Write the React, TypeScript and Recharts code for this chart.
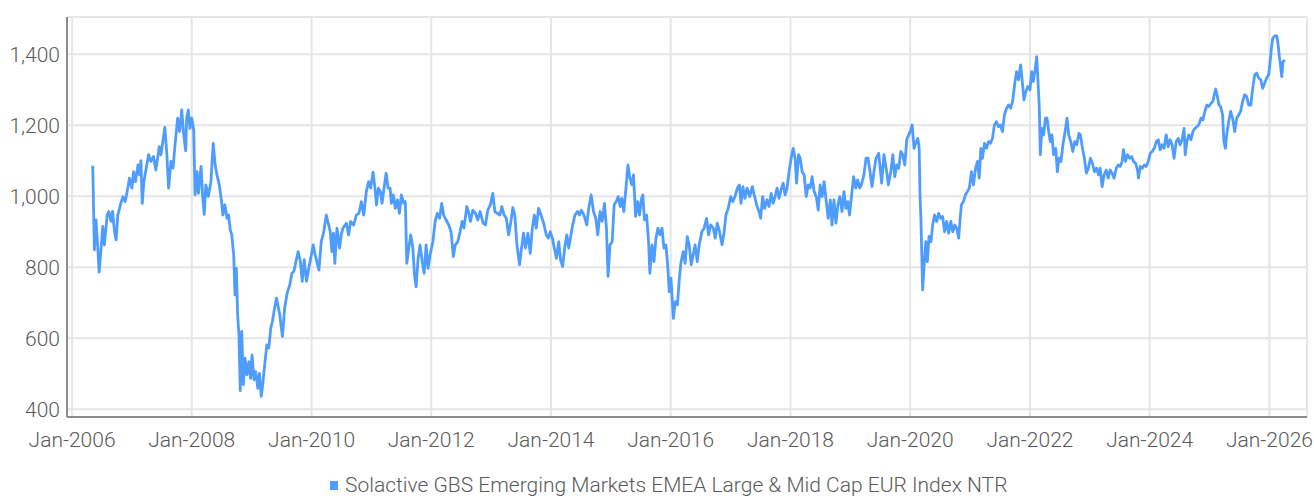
// Solactive GBS Emerging Markets EMEA Large & Mid Cap EUR Index NTR — index level history.
import React from 'react';
import { LineChart, Line, XAxis, YAxis, CartesianGrid } from 'recharts';

const BLUE = '#4f9cff';
const GRID = '#e6e6e6';
const AXIS = '#8c8c8c';
const LABEL = '#5a5a5a';
const FONT = "Roboto, 'Noto Sans', sans-serif";

const SERIES_NAME = 'Solactive GBS Emerging Markets EMEA Large & Mid Cap EUR Index NTR';

const tickYears = [2006, 2008, 2010, 2012, 2014, 2016, 2018, 2020, 2022, 2024, 2026];
const yTicks = [400, 600, 800, 1000, 1200, 1400];

// values, [date, index level]
const seg2006: [string, number][] = [
  ['2006-05-07', 1086], ['2006-05-17', 849], ['2006-05-27', 933], ['2006-06-07', 853], ['2006-06-15', 786],
  ['2006-06-27', 853], ['2006-07-07', 915], ['2006-07-17', 863], ['2006-08-03', 947], ['2006-08-13', 957],
  ['2006-08-27', 929], ['2006-09-05', 957], ['2006-09-17', 900], ['2006-09-27', 877], ['2006-10-07', 947],
  ['2006-10-23', 976], ['2006-11-07', 999], ['2006-11-21', 985], ['2006-12-03', 1013], ['2006-12-17', 1051],
  ['2007-01-01', 1023], ['2007-01-11', 1069], ['2007-01-23', 1041], ['2007-02-07', 1088], ['2007-02-17', 1060],
  ['2007-02-25', 1100], ['2007-03-05', 980], ['2007-03-15', 1041], ['2007-03-29', 1079], ['2007-04-13', 1117],
  ['2007-04-27', 1098], ['2007-05-13', 1112], ['2007-05-27', 1074], ['2007-06-07', 1107], ['2007-06-17', 1140],
  ['2007-06-27', 1117], ['2007-07-07', 1149], ['2007-07-21', 1194], ['2007-08-01', 1126], ['2007-08-13', 1023],
  ['2007-08-27', 1098], ['2007-09-09', 1079], ['2007-09-21', 1145], ['2007-10-07', 1220], ['2007-10-19', 1182],
  ['2007-11-01', 1243], ['2007-11-13', 1173], ['2007-11-25', 1128], ['2007-12-01', 1220], ['2007-12-11', 1243],
  ['2007-12-21', 1191], ['2008-01-01', 1220], ['2008-01-13', 1187], ['2008-01-21', 1004], ['2008-02-03', 1069],
  ['2008-02-11', 1008], ['2008-02-27', 1084], ['2008-03-07', 1004], ['2008-03-17', 949], ['2008-03-27', 1032],
  ['2008-04-11', 999], ['2008-04-27', 1041], ['2008-05-11', 1149], ['2008-05-23', 1088], ['2008-06-03', 1060],
  ['2008-06-17', 1032], ['2008-07-01', 985], ['2008-07-09', 947], ['2008-07-21', 976], ['2008-08-03', 938],
  ['2008-08-13', 947], ['2008-08-23', 905], ['2008-09-01', 891], ['2008-09-13', 835], ['2008-09-21', 722],
  ['2008-09-29', 797], ['2008-10-07', 666], ['2008-10-15', 609], ['2008-10-23', 452], ['2008-11-01', 619],
  ['2008-11-11', 469], ['2008-11-21', 544], ['2008-12-03', 497], ['2008-12-15', 534], ['2008-12-25', 487],
  ['2009-01-03', 553], ['2009-01-15', 483], ['2009-01-25', 506], ['2009-02-07', 459], ['2009-02-17', 501],
  ['2009-02-28', 436], ['2009-03-09', 469], ['2009-03-21', 525], ['2009-04-03', 581], ['2009-04-15', 572],
  ['2009-04-27', 628], ['2009-05-07', 647], ['2009-05-17', 675], ['2009-06-01', 713], ['2009-06-21', 666],
  ['2009-07-07', 605], ['2009-07-21', 685], ['2009-08-05', 727], ['2009-08-21', 750], ['2009-09-03', 783],
  ['2009-09-15', 788], ['2009-10-11', 844], ['2009-10-25', 816], ['2009-11-05', 760], ['2009-11-17', 821],
  ['2009-12-01', 760], ['2009-12-15', 797], ['2009-12-29', 830],
];

const seg2010: [string, number][] = [
  ['2010-01-11', 863], ['2010-01-23', 835], ['2010-02-15', 792], ['2010-03-01', 872], ['2010-03-15', 896],
  ['2010-04-01', 947], ['2010-04-25', 900], ['2010-05-05', 844], ['2010-05-15', 896], ['2010-05-23', 811],
  ['2010-06-05', 910], ['2010-06-21', 854], ['2010-07-01', 891], ['2010-07-11', 910], ['2010-08-01', 924],
  ['2010-08-15', 891], ['2010-08-27', 929], ['2010-09-15', 919], ['2010-10-01', 947], ['2010-10-17', 952],
  ['2010-11-01', 985], ['2010-11-15', 947], ['2010-12-01', 1013], ['2010-12-15', 1041], ['2010-12-28', 1023],
  ['2011-01-11', 1068], ['2011-01-23', 1023], ['2011-02-01', 976], ['2011-02-13', 1023], ['2011-02-25', 1013],
  ['2011-03-07', 980], ['2011-03-19', 1023], ['2011-04-01', 1065], ['2011-04-13', 1023], ['2011-04-25', 1023],
  ['2011-05-03', 980], ['2011-05-15', 1004], ['2011-05-27', 966], ['2011-06-09', 990], ['2011-06-21', 952],
  ['2011-07-03', 1004], ['2011-07-17', 980], ['2011-07-27', 985], ['2011-08-05', 811], ['2011-08-17', 854],
  ['2011-08-29', 891], ['2011-09-11', 854], ['2011-09-21', 778], ['2011-10-01', 745], ['2011-10-13', 825],
  ['2011-10-25', 863], ['2011-11-07', 816], ['2011-11-19', 783], ['2011-12-01', 863], ['2011-12-13', 797],
  ['2011-12-25', 835], ['2012-01-11', 872], ['2012-01-25', 929], ['2012-02-07', 952], ['2012-02-21', 938],
  ['2012-03-05', 980], ['2012-03-17', 947], ['2012-04-01', 933], ['2012-04-17', 919], ['2012-05-01', 900],
  ['2012-05-15', 830], ['2012-05-27', 863], ['2012-06-11', 872], ['2012-06-25', 900], ['2012-07-07', 929],
  ['2012-07-19', 910], ['2012-08-05', 971], ['2012-08-15', 957], ['2012-08-27', 929], ['2012-09-11', 961],
  ['2012-09-27', 952], ['2012-10-11', 933], ['2012-10-25', 957], ['2012-11-13', 924], ['2012-11-27', 919],
  ['2012-12-11', 961], ['2012-12-27', 976], ['2013-01-11', 1008], ['2013-01-23', 957], ['2013-02-07', 952],
  ['2013-02-23', 947], ['2013-03-07', 971], ['2013-03-21', 947], ['2013-04-03', 938], ['2013-04-17', 891],
  ['2013-05-01', 929], ['2013-05-13', 968], ['2013-05-25', 947], ['2013-06-07', 863], ['2013-06-23', 807],
  ['2013-07-05', 854], ['2013-07-17', 896], ['2013-07-29', 854], ['2013-08-13', 896], ['2013-08-27', 839],
  ['2013-09-09', 910], ['2013-09-21', 947], ['2013-10-03', 910], ['2013-10-17', 966], ['2013-11-01', 947],
  ['2013-11-17', 924], ['2013-12-03', 891], ['2013-12-15', 882], ['2013-12-27', 900],
];

const seg2014: [string, number][] = [
  ['2014-01-09', 882], ['2014-01-21', 854], ['2014-02-03', 825], ['2014-02-17', 872], ['2014-02-28', 821],
  ['2014-03-13', 802], ['2014-03-25', 854], ['2014-04-07', 891], ['2014-04-19', 854], ['2014-05-01', 887],
  ['2014-05-13', 919], ['2014-05-27', 947], ['2014-06-11', 957], ['2014-06-23', 947], ['2014-07-05', 961],
  ['2014-07-21', 947], ['2014-08-07', 919], ['2014-08-19', 966], ['2014-09-03', 1004], ['2014-09-17', 957],
  ['2014-10-01', 938], ['2014-10-13', 891], ['2014-10-27', 957], ['2014-11-09', 929], ['2014-11-23', 980],
  ['2014-12-05', 910], ['2014-12-15', 774], ['2014-12-27', 863], ['2015-01-09', 872], ['2015-01-21', 976],
  ['2015-02-03', 985], ['2015-02-15', 999], ['2015-02-27', 971], ['2015-03-09', 994], ['2015-03-21', 957],
  ['2015-04-03', 1023], ['2015-04-15', 1088], ['2015-04-27', 1051], ['2015-05-09', 1032], ['2015-05-19', 1060],
  ['2015-06-01', 943], ['2015-06-13', 985], ['2015-06-25', 947], ['2015-07-05', 990], ['2015-07-15', 1004],
  ['2015-07-25', 933], ['2015-08-07', 947], ['2015-08-19', 872], ['2015-08-27', 783], ['2015-09-09', 863],
  ['2015-09-21', 816], ['2015-10-03', 882], ['2015-10-15', 910], ['2015-10-27', 891], ['2015-11-09', 910],
  ['2015-11-21', 854], ['2015-12-03', 863], ['2015-12-15', 797], ['2015-12-23', 731], ['2016-01-03', 769],
  ['2016-01-17', 656], ['2016-01-29', 703], ['2016-02-11', 694], ['2016-02-23', 769], ['2016-03-03', 811],
  ['2016-03-17', 844], ['2016-03-29', 811], ['2016-04-11', 886], ['2016-04-23', 863], ['2016-05-05', 807],
  ['2016-05-17', 835], ['2016-05-29', 863], ['2016-06-11', 816], ['2016-06-23', 863], ['2016-07-09', 900],
  ['2016-07-23', 910], ['2016-08-07', 938], ['2016-08-19', 891], ['2016-09-01', 919], ['2016-09-17', 910],
  ['2016-09-29', 882], ['2016-10-11', 924], ['2016-10-25', 900], ['2016-11-09', 863], ['2016-11-21', 896],
  ['2016-12-03', 947], ['2016-12-17', 966], ['2017-01-01', 999], ['2017-01-13', 985], ['2017-01-27', 999],
  ['2017-02-11', 1023], ['2017-02-23', 1032], ['2017-03-05', 980], ['2017-03-17', 1027], ['2017-03-29', 994],
  ['2017-04-11', 1023], ['2017-04-27', 999], ['2017-05-13', 1027], ['2017-05-27', 999], ['2017-06-11', 971],
  ['2017-06-23', 957], ['2017-07-03', 938], ['2017-07-15', 999], ['2017-07-27', 966], ['2017-08-11', 990],
  ['2017-08-23', 971], ['2017-09-05', 1008], ['2017-09-17', 980], ['2017-09-29', 999], ['2017-10-11', 1023],
  ['2017-10-23', 994], ['2017-11-07', 1023], ['2017-11-17', 1037], ['2017-11-29', 1004], ['2017-12-11', 1023],
  ['2017-12-23', 1069],
];

const seg2018: [string, number][] = [
  ['2018-01-05', 1107], ['2018-01-17', 1135], ['2018-01-29', 1107], ['2018-02-07', 1037], ['2018-02-19', 1117],
  ['2018-03-01', 1107], ['2018-03-13', 1069], ['2018-03-25', 1060], ['2018-04-07', 999], ['2018-04-19', 1032],
  ['2018-05-01', 1023], ['2018-05-13', 1055], ['2018-05-25', 1013], ['2018-06-07', 999], ['2018-06-19', 961],
  ['2018-07-01', 1032], ['2018-07-13', 999], ['2018-07-25', 1041], ['2018-08-07', 985], ['2018-08-19', 938],
  ['2018-09-01', 990], ['2018-09-11', 919], ['2018-09-23', 990], ['2018-10-05', 924], ['2018-10-17', 976],
  ['2018-10-29', 999], ['2018-11-11', 957], ['2018-11-23', 1013], ['2018-12-05', 966], ['2018-12-17', 985],
  ['2018-12-27', 947], ['2019-01-09', 1004], ['2019-01-21', 1055], ['2019-02-03', 1023], ['2019-02-15', 1046],
  ['2019-02-27', 1023], ['2019-03-09', 1032], ['2019-03-25', 1060], ['2019-04-07', 1107], ['2019-04-19', 1107],
  ['2019-05-01', 1069], ['2019-05-13', 1027], ['2019-05-25', 1069], ['2019-06-07', 1107], ['2019-06-23', 1121],
  ['2019-07-11', 1037], ['2019-07-25', 1117], ['2019-08-11', 1069], ['2019-08-21', 1032], ['2019-09-05', 1069],
  ['2019-09-17', 1117], ['2019-09-29', 1055], ['2019-10-11', 1088], ['2019-10-23', 1079], ['2019-11-05', 1126],
  ['2019-11-17', 1117], ['2019-11-29', 1088], ['2019-12-11', 1159], ['2019-12-23', 1173], ['2020-01-05', 1187],
  ['2020-01-13', 1201], ['2020-01-25', 1135], ['2020-02-07', 1154], ['2020-02-17', 1163], ['2020-02-25', 1135],
  ['2020-03-01', 1004], ['2020-03-07', 929], ['2020-03-11', 854], ['2020-03-17', 736], ['2020-03-25', 797],
  ['2020-04-05', 872], ['2020-04-15', 816], ['2020-04-25', 887], ['2020-05-07', 872], ['2020-05-17', 919],
  ['2020-05-29', 947], ['2020-06-11', 929], ['2020-06-23', 952], ['2020-07-05', 938], ['2020-07-17', 943],
  ['2020-07-29', 900], ['2020-08-11', 929], ['2020-08-23', 896], ['2020-09-05', 929], ['2020-09-17', 900],
  ['2020-09-29', 919], ['2020-10-11', 910], ['2020-10-23', 882], ['2020-11-01', 938], ['2020-11-09', 976],
  ['2020-11-21', 985], ['2020-12-03', 1004], ['2020-12-15', 1013], ['2020-12-27', 1023], ['2021-01-09', 1069],
  ['2021-01-21', 1032], ['2021-02-03', 1079], ['2021-02-15', 1098], ['2021-02-25', 1051], ['2021-03-07', 1135],
  ['2021-03-17', 1107], ['2021-03-29', 1149], ['2021-04-11', 1135], ['2021-04-23', 1154], ['2021-05-05', 1149],
  ['2021-05-17', 1163], ['2021-05-29', 1201], ['2021-06-11', 1210], ['2021-06-23', 1196], ['2021-07-05', 1201],
  ['2021-07-17', 1182], ['2021-07-29', 1229], ['2021-08-11', 1248], ['2021-08-23', 1257], ['2021-09-05', 1248],
  ['2021-09-17', 1267], ['2021-09-29', 1314], ['2021-10-11', 1351], ['2021-10-23', 1328], ['2021-11-05', 1370],
  ['2021-11-17', 1314], ['2021-11-25', 1271], ['2021-12-07', 1295], ['2021-12-19', 1309],
];

const seg2022: [string, number][] = [
  ['2022-01-01', 1300], ['2022-01-11', 1351], ['2022-01-21', 1323], ['2022-02-01', 1356], ['2022-02-11', 1393],
  ['2022-02-19', 1323], ['2022-02-27', 1248], ['2022-03-05', 1117], ['2022-03-15', 1191], ['2022-03-25', 1173],
  ['2022-04-05', 1220], ['2022-04-15', 1220], ['2022-04-25', 1182], ['2022-05-05', 1154], ['2022-05-15', 1173],
  ['2022-05-25', 1117], ['2022-06-07', 1135], ['2022-06-17', 1069], ['2022-06-27', 1107], ['2022-07-09', 1098],
  ['2022-07-21', 1145], ['2022-08-03', 1182], ['2022-08-15', 1220], ['2022-08-25', 1173], ['2022-09-07', 1154],
  ['2022-09-19', 1126], ['2022-10-01', 1154], ['2022-10-13', 1145], ['2022-10-27', 1177], ['2022-11-05', 1173],
  ['2022-11-17', 1135], ['2022-11-29', 1107], ['2022-12-11', 1065], ['2022-12-23', 1079], ['2023-01-05', 1107],
  ['2023-01-17', 1093], ['2023-01-29', 1069], ['2023-02-11', 1079], ['2023-02-23', 1060], ['2023-03-05', 1079],
  ['2023-03-17', 1027], ['2023-03-29', 1060], ['2023-04-11', 1074], ['2023-04-23', 1051], ['2023-05-05', 1074],
  ['2023-05-17', 1065], ['2023-05-29', 1051], ['2023-06-11', 1079], ['2023-06-23', 1088], ['2023-07-05', 1084],
  ['2023-07-17', 1098], ['2023-07-25', 1131], ['2023-08-07', 1098], ['2023-08-19', 1117], ['2023-09-01', 1107],
  ['2023-09-13', 1112], ['2023-09-25', 1098], ['2023-10-07', 1093], ['2023-10-19', 1074], ['2023-10-25', 1051],
  ['2023-11-05', 1084], ['2023-11-17', 1079], ['2023-11-29', 1088], ['2023-12-11', 1084], ['2023-12-23', 1098],
  ['2024-01-05', 1121], ['2024-01-17', 1126], ['2024-01-29', 1135], ['2024-02-11', 1154], ['2024-02-23', 1159],
  ['2024-03-05', 1131], ['2024-03-17', 1145], ['2024-03-29', 1135], ['2024-04-11', 1173], ['2024-04-23', 1140],
  ['2024-05-05', 1159], ['2024-05-17', 1145], ['2024-05-29', 1107], ['2024-06-11', 1154], ['2024-06-23', 1163],
  ['2024-07-05', 1145], ['2024-07-17', 1159], ['2024-07-29', 1191], ['2024-08-05', 1117], ['2024-08-15', 1154],
  ['2024-08-27', 1173], ['2024-09-09', 1159], ['2024-09-21', 1182], ['2024-10-03', 1191], ['2024-10-15', 1196],
  ['2024-10-27', 1201], ['2024-11-09', 1220], ['2024-11-21', 1215], ['2024-12-03', 1239], ['2024-12-15', 1257],
  ['2024-12-27', 1253], ['2025-01-09', 1262], ['2025-01-21', 1267], ['2025-01-29', 1286], ['2025-02-07', 1302],
  ['2025-02-15', 1286], ['2025-02-27', 1257], ['2025-03-09', 1253], ['2025-03-21', 1229], ['2025-03-29', 1154],
  ['2025-04-07', 1135], ['2025-04-15', 1173], ['2025-04-27', 1210], ['2025-05-09', 1239], ['2025-05-21', 1220],
  ['2025-06-03', 1182], ['2025-06-15', 1220], ['2025-06-27', 1229], ['2025-07-09', 1239], ['2025-07-21', 1267],
  ['2025-08-03', 1286], ['2025-08-15', 1281], ['2025-08-27', 1257], ['2025-09-09', 1257], ['2025-09-21', 1304],
  ['2025-10-03', 1342], ['2025-10-15', 1347], ['2025-10-27', 1333], ['2025-11-09', 1328], ['2025-11-21', 1304],
  ['2025-12-03', 1319], ['2025-12-15', 1333], ['2025-12-27', 1342], ['2026-01-05', 1379], ['2026-01-13', 1417],
  ['2026-01-21', 1445], ['2026-02-03', 1452], ['2026-02-15', 1452], ['2026-02-23', 1426], ['2026-03-01', 1398],
  ['2026-03-09', 1370], ['2026-03-17', 1337], ['2026-03-25', 1379], ['2026-04-05', 1384],
];

const data = [...seg2006, ...seg2010, ...seg2014, ...seg2018, ...seg2022].map(([d, v]) => ({
  t: new Date(d + 'T00:00:00Z').getTime(),
  value: v,
}));

const xTicks = tickYears.map((y) => Date.UTC(y, 0, 1));
// axis starts a few days before Jan-2006 and runs past the last point
const xDomain = [Date.UTC(2005, 11, 1), Date.UTC(2026, 7, 18)];

const fmtTick = (t: number) => `Jan-${new Date(t).getUTCFullYear()}`;
const fmtNum = (v: number) => v.toLocaleString('en-US');

const tickStyle = { fontSize: 21, fill: LABEL, fontFamily: FONT, fontWeight: 300 };

export default function App() {
  return (
    <div style={{ position: 'absolute', left: 0, top: 0, width: 1314, height: 498, background: '#fff', overflow: 'hidden' }}>
      <LineChart width={1314} height={498} data={data} margin={{ top: 17, right: 7, bottom: 41, left: 0 }}>
        <CartesianGrid stroke={GRID} strokeWidth={2} />
        <XAxis
          dataKey="t"
          type="number"
          scale="time"
          domain={xDomain}
          ticks={xTicks}
          tickFormatter={fmtTick}
          tick={tickStyle}
          tickLine={false}
          tickSize={0}
          tickMargin={15}
          height={40}
          axisLine={{ stroke: AXIS, strokeWidth: 2 }}
          allowDataOverflow
        />
        <YAxis
          type="number"
          domain={[378, 1505]}
          ticks={yTicks}
          tickFormatter={fmtNum}
          tick={tickStyle}
          tickLine={false}
          tickSize={0}
          tickMargin={7}
          width={67}
          axisLine={{ stroke: AXIS, strokeWidth: 2 }}
          allowDataOverflow
        />
        <Line
          type="linear"
          dataKey="value"
          name={SERIES_NAME}
          stroke={BLUE}
          strokeWidth={2.8}
          strokeLinejoin="round"
          dot={false}
          isAnimationActive={false}
        />
      </LineChart>
      <div
        style={{
          position: 'absolute', left: 330, top: 473, display: 'flex', alignItems: 'center',
          fontFamily: FONT, fontWeight: 300, fontSize: 21, lineHeight: '25px', color: LABEL, whiteSpace: 'nowrap',
        }}
      >
        <span style={{ display: 'inline-block', width: 8, height: 9, background: BLUE, marginRight: 7 }} />
        <span>{SERIES_NAME}</span>
      </div>
    </div>
  );
}
